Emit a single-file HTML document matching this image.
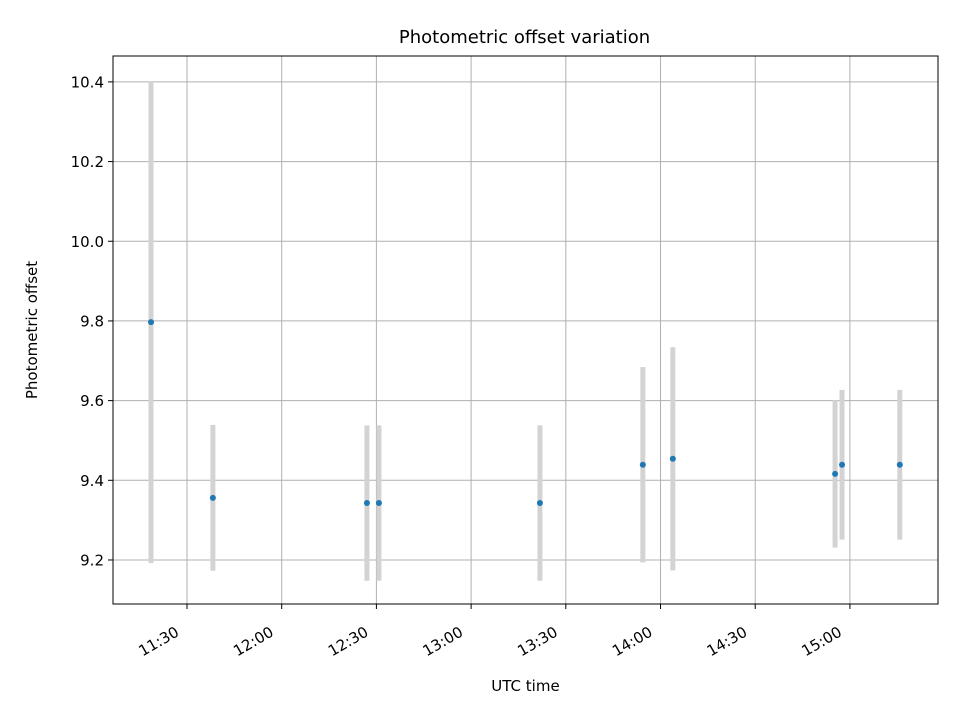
<!DOCTYPE html>
<html><head><meta charset="utf-8"><style>
body{margin:0;background:#fff;font-family:"Liberation Sans","DejaVu Sans",sans-serif}
text{font-family:"DejaVu Sans","Liberation Sans",sans-serif}
</style></head><body>
<svg id="chart" width="960" height="720" xmlns="http://www.w3.org/2000/svg"></svg>
<script>
const times=[18.6,38.2,87,90.8,141.8,174.4,183.9,235.3,237.5,255.8]; // minutes after 11:00
const offsets=[9.797,9.356,9.343,9.343,9.343,9.439,9.454,9.416,9.439,9.439];
const errors=[0.605,0.183,0.195,0.195,0.195,0.245,0.28,0.185,0.188,0.188];
const yTicks=[9.2,9.4,9.6,9.8,10.0,10.2,10.4];
const xTicks=[30,60,90,120,150,180,210,240];
const xTickLabels=["11:30","12:00","12:30","13:00","13:30","14:00","14:30","15:00"];
const L=113,R=938,T=56,B=604,xMin=6.56,xMax=267.9,yMin=9.0895,yMax=10.465;
const sx=m=>L+(m-xMin)/(xMax-xMin)*(R-L);
const sy=v=>B-(v-yMin)/(yMax-yMin)*(B-T);
const svg=document.getElementById('chart');
const NS='http://www.w3.org/2000/svg';
function mk(tag,attrs,parent){const e=document.createElementNS(NS,tag);for(const k in attrs)e.setAttribute(k,attrs[k]);(parent||svg).appendChild(e);return e;}
const grid=mk('g',{});


xTicks.forEach((t,i)=>{
  const x=sx(t);
  mk('line',{x1:x,x2:x,y1:T,y2:B,stroke:'#b0b0b0','stroke-width':1},grid);
  mk('line',{x1:x,x2:x,y1:B,y2:B+5,stroke:'#000'});
  const ax=x-7,ay=B+31;
  const tx=mk('text',{x:ax,y:ay,'font-size':15,'text-anchor':'end',transform:`rotate(-30 ${ax} ${ay})`});
  
  
  tx.textContent=xTickLabels[i];
});
yTicks.forEach(t=>{
  const y=sy(t);
  mk('line',{x1:L,x2:R,y1:y,y2:y,stroke:'#b0b0b0','stroke-width':1},grid);
  mk('line',{x1:L-5,x2:L,y1:y,y2:y,stroke:'#000'});
  const tx=mk('text',{x:L-9,y:y+5.5,'font-size':15,'text-anchor':'end'});
  
  
  tx.textContent=t.toFixed(1);
});
times.forEach((m,i)=>{
  const x=sx(m);
  const eb=mk('line',{x1:x,x2:x,y1:sy(offsets[i]-errors[i]),y2:sy(offsets[i]+errors[i]),stroke:'#d3d3d3','stroke-width':5});
  
  
});
times.forEach((m,i)=>{
  const p=mk('circle',{cx:sx(m),cy:sy(offsets[i]),r:3,fill:'#1f77b4'});
  
  
});
const frame=mk('rect',{x:L,y:T,width:R-L,height:B-T,fill:'none',stroke:'#000','stroke-width':1});


const title=mk('text',{x:(L+R)/2-1,y:43,'font-size':18,'text-anchor':'middle'});


title.textContent='Photometric offset variation';
const xl=mk('text',{x:(L+R)/2,y:691,'font-size':15,'text-anchor':'middle'});


xl.textContent='UTC time';
const yl=mk('text',{x:37,y:(T+B)/2,'font-size':15,'text-anchor':'middle',transform:`rotate(-90 37 ${(T+B)/2})`});


yl.textContent='Photometric offset';
</script>
</body></html>
